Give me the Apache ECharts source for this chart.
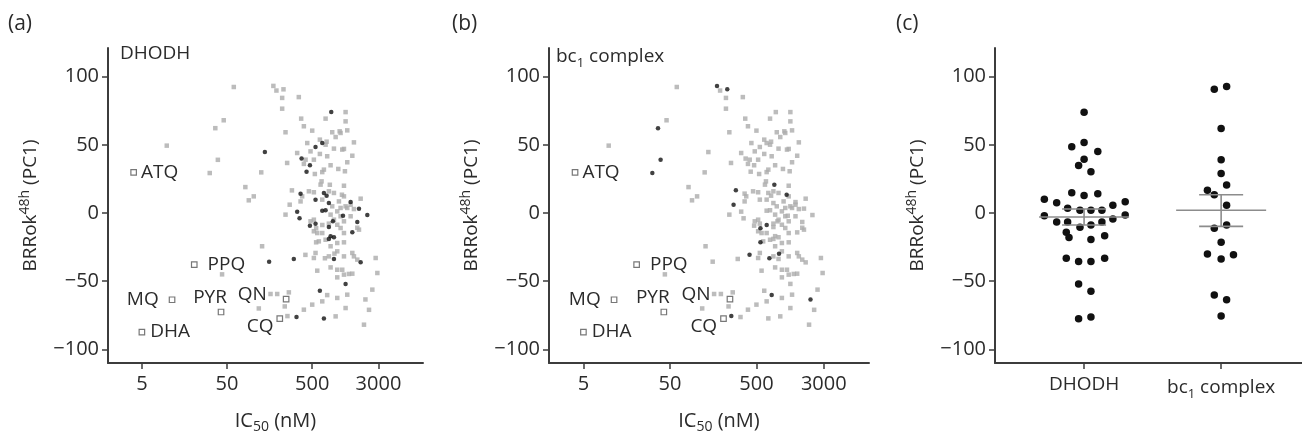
<!DOCTYPE html>
<html>
<head>
<meta charset="utf-8">
<script src="https://cdn.jsdelivr.net/npm/echarts@6/dist/echarts.min.js"></script>
<style>
  html, body { margin: 0; padding: 0; background: #fff; }
  #chart { width: 1302px; height: 438px; }
</style>
</head>
<body>
<div id="chart"></div>
<script>
// tick labels
const icTicks = [5, 50, 500, 3000];
const pcTicks = [-100, -50, 0, 50, 100];

// compounds as [IC50 (nM), BRRok48h PC1]
const otherCompounds = [
    [9.8, 49.4], [45.7, 68], [60, 92.4], [82, 19], [90, 9.3], [103, 12.2], [126, 29.8], [43.7, -45],
    [129, -24.4], [118, -70], [162, -59.4], [194, -59.4], [266, -58.2], [238, -68.5],
    [190, 89.8], [222, 84.4], [222, 76.5], [348, 85], [243, 59.2], [371, 69.2], [399, 63.6], [500, 60.4],
    [718, 69.2], [1233, 74], [1233, 67.2], [1290, 60.6], [1077, 58.7], [1545, 51.8], [1479, 42], [1180, 47],
    [900, 47.2], [718, 50.1], [437, 51.3], [478, 45.2], [333, 44], [254, 36.7], [615, 43.3], [1290, 37.2],
    [1012, 32.3], [1211, 30.6], [537, 28.6], [656, 30], [822, 35], [399, 36], [644, 23.2], [1180, 20],
    [900, 14.7], [1853, 10.5], [365, 8.5], [523, 15.2], [656, 9.8], [1030, 8.5], [1413, 6.1], [1077, 3.7],
    [984, 1.2], [1290, 3.7], [1545, 2.9], [859, 4.9], [243, -1.2], [523, -4.9], [785, -7.8], [900, -4.9],
    [1180, -6.1], [1413, -2.4], [1692, -10.8], [573, -14.7], [984, -22], [1180, -21.5], [822, -24.4],
    [523, -33], [1180, -31.8], [1545, -31.8], [1692, -34.2], [2780, -33], [2910, -44], [822, -39.9],
    [984, -41.6], [1180, -45.2], [1350, -44.7], [984, -47.2], [573, -42.3], [2541, -56.2], [2323, -71],
    [2028, -81.9], [1290, -59.9], [1233, -69.7], [656, -64.8], [500, -67.2], [399, -70.9], [942, -75.8],
    [1077, -2.4], [1233, 4.9], [822, -1.2], [984, -8.6], [1077, -11], [1180, -14.7], [656, -14.7],
    [478, -6.1], [523, -13.4], [598, -20.8], [718, -19.6], [547, -29.3], [785, -31.8], [984, -28.1],
    [1479, -29.3], [1127, -41.6], [1479, -44.5], [984, -62.3], [1771, -12.2], [942, 55.7], [615, 53.8],
    [738, 52.3], [1127, 46.5], [418, 39.1], [523, 39.1], [750, 41.6], [686, 31.8], [627, 20.8],
    [1180, 12.2], [381, 12.2], [457, 15.9], [785, 15.9], [859, 59.2], [1050, 59.9]
];
const dhodhCompounds = [
    [837, 74], [139, 44.7], [547, 48.4], [656, 51.3], [375, 39.9], [470, 35], [429, 30.3], [365, 14.2],
    [547, 9.8], [686, 14.7], [738, 12.7], [785, 7.3], [656, 1.7], [718, 2], [1413, 8], [1771, 3.2],
    [2218, -1.5], [333, 1], [355, -3.9], [470, -9.3], [547, -7.8], [785, -10.3], [875, -6.1], [1692, -6.6],
    [1479, -14.2], [785, -19], [822, -17], [900, -17.8], [156, -35.7], [304, -33.7], [900, -33.7],
    [1853, -36.2], [1233, -52], [615, -57], [686, -77.3], [327, -76.3], [1150, -2]
];
const bc1Compounds = [
    [175, 93.2], [230, 90.7], [36.4, 62.2], [39, 39], [31.3, 29.3], [289, 16.6], [272, 6.1], [805, 20.7],
    [1117, 13.4], [556, -11.2], [657, -8.8], [556, -21.5], [416, -30.7], [705, -33.2], [912, -29.8],
    [750, -60.2], [2108, -63.4], [256, -75.6]
];

// reference antimalarials
const refDrugs = ['ATQ', 'PPQ', 'MQ', 'DHA', 'PYR', 'QN', 'CQ'];
const refIC50 = [4.0, 20.6, 11.3, 5, 42.5, 247, 208];
const refPC1 = [29.8, -37.9, -63.6, -87.3, -72.6, -63.1, -77.5];

// panel (c): swarm position (1 = DHODH, 2 = bc1 complex), PC1
const swarmGroups = ['DHODH', 'bc{sub|1} complex'];
const dhodhSwarm = [
    [1.00, 73.9], [0.91, 48.5], [1.00, 51.7], [1.10, 45.1], [1.00, 39.5], [0.96, 34.9], [1.05, 30.2],
    [0.91, 14.9], [1.00, 12.9], [1.10, 14.1],
    [0.71, 10], [0.80, 7.6], [0.88, 3.4], [0.97, 2], [1.05, 2], [1.13, 2], [1.21, 5.6], [1.30, 8.3],
    [0.71, -2], [0.80, -6.6], [0.88, -6.6], [0.97, -10.5], [1.05, -8.8], [1.13, -6.6], [1.21, -4.4], [1.30, -1.5],
    [0.87, -14.1], [0.89, -18], [1.05, -19.5], [1.15, -16.6],
    [0.87, -33.2], [0.96, -35.6], [1.05, -35.6], [1.15, -33.2],
    [0.96, -52], [1.05, -57.3], [0.96, -77.6], [1.05, -76.3]
];
const bc1Swarm = [
    [1.95, 90.7], [2.04, 92.7], [2.00, 62], [2.00, 39], [2.00, 29], [2.04, 20.5], [1.90, 16.6], [1.95, 13.4],
    [2.04, 5.6], [1.95, -11.2], [2.04, -8.8], [2.00, -21.5], [1.90, -30], [2.00, -33.7], [2.09, -30.7],
    [1.95, -60.2], [2.04, -63.7], [2.00, -75.6]
];
// mean and error bar per group: [group, mean, low, high]
const groupStats = [[1, -2.9, -8.8, 2.9], [2, 2, -9.8, 13.4]];

const FONT = '"Open Sans", "Noto Sans", sans-serif';
const TEXT = '#2b2b2b';
const AXIS = '#3c3c3c';
const GREY = '#ababab';
const BLACK = '#111';

const refLabel = {
    ATQ: {position: 'right', distance: 4},
    PPQ: {position: 'right', distance: 10},
    MQ: {position: 'left', distance: 10},
    DHA: {position: 'right', distance: 5},
    PYR: {position: 'top', distance: 2, offset: [-11, 0]},
    QN: {position: 'left', distance: 16, offset: [0, -4]},
    CQ: {position: 'left', distance: 3, offset: [0, 8]},
};

const grids = [
    {left: 108, top: 48, width: 315, height: 315, outerBoundsMode: 'none'},
    {left: 549, top: 48, width: 320, height: 315, outerBoundsMode: 'none'},
    {left: 995, top: 48, width: 307, height: 315, outerBoundsMode: 'none'},
];

const pcName = 'BRRok{sup|48h} (PC1)';
const minus = v => String(v).replace('-', '\u2212');

function yAxisFor(gridIndex) {
    return {
        type: 'value', gridIndex, min: -110, max: 121,
        name: pcName, nameLocation: 'middle', nameGap: 64,
        nameTextStyle: {
            fontFamily: FONT, fontSize: 19, color: TEXT, lineHeight: 26,
            rich: {sup: {fontFamily: FONT, fontSize: 14, color: TEXT, verticalAlign: 'top', lineHeight: 26}},
        },
        axisLine: {show: true, onZero: false, lineStyle: {color: AXIS, width: 2}},
        axisTick: {show: true, length: 6, customValues: pcTicks, lineStyle: {color: AXIS, width: 1.5}},
        axisLabel: {customValues: pcTicks, formatter: minus, fontFamily: FONT, fontSize: 20, color: TEXT, margin: 9},
        splitLine: {show: false},
    };
}

function icAxisFor(gridIndex, max) {
    return {
        type: 'log', gridIndex, min: 2, max, logBase: 10,
        name: 'IC{sub|50} (nM)', nameLocation: 'middle', nameGap: 45,
        nameTextStyle: {
            fontFamily: FONT, fontSize: 20, color: TEXT, lineHeight: 26, padding: [0, 0, 0, 20],
            rich: {sub: {fontFamily: FONT, fontSize: 14, color: TEXT, verticalAlign: 'bottom', lineHeight: 26}},
        },
        axisLine: {show: true, onZero: false, lineStyle: {color: AXIS, width: 2}},
        axisTick: {show: true, length: 6, customValues: icTicks, lineStyle: {color: AXIS, width: 1.5}},
        axisLabel: {customValues: icTicks, formatter: v => String(Math.round(v)), fontFamily: FONT, fontSize: 20, color: TEXT, margin: 11},
        splitLine: {show: false},
        minorTick: {show: false},
    };
}

function scatterSeries(axisIndex, greyData, blackData) {
    return [
        {
            type: 'scatter', xAxisIndex: axisIndex, yAxisIndex: axisIndex,
            data: greyData, symbol: 'rect', symbolSize: 4.5,
            itemStyle: {color: GREY}, silent: true, z: 2,
        },
        {
            type: 'scatter', xAxisIndex: axisIndex, yAxisIndex: axisIndex,
            data: blackData, symbol: 'circle', symbolSize: 4.5,
            itemStyle: {color: BLACK}, silent: true, z: 3,
        },
        {
            type: 'scatter', xAxisIndex: axisIndex, yAxisIndex: axisIndex,
            symbol: 'rect', symbolSize: 5.5, silent: true, z: 4,
            itemStyle: {color: '#fff', borderColor: '#555', borderWidth: 1.2},
            label: {
                show: true, formatter: '{b}', fontFamily: FONT, fontSize: 19,
                color: TEXT, textBorderWidth: 0, opacity: 1,
            },
            data: refDrugs.map((name, i) => ({
                name, value: [refIC50[i], refPC1[i]],
                label: Object.assign({color: TEXT}, refLabel[name]),
            })),
        },
    ];
}

const chart = echarts.init(document.getElementById('chart'), null, {renderer: 'canvas'});

const titleStyle = {fontFamily: FONT, fontSize: 21, fontWeight: 'normal', color: TEXT};
const innerStyle = {
    fontFamily: FONT, fontSize: 19, fontWeight: 'normal', color: TEXT,
    rich: {sub: {fontFamily: FONT, fontSize: 13, color: TEXT, verticalAlign: 'bottom', lineHeight: 26}},
};

chart.setOption({
    animation: false,
    backgroundColor: '#fff',
    title: [
        {text: '(a)', left: 8, top: 14, textStyle: titleStyle, padding: 0},
        {text: '(b)', left: 452, top: 14, textStyle: titleStyle, padding: 0},
        {text: '(c)', left: 896, top: 14, textStyle: titleStyle, padding: 0},
        {text: 'DHODH', left: 120, top: 44, textStyle: innerStyle, padding: 0},
        {text: 'bc{sub|1} complex', left: 556, top: 44, textStyle: innerStyle, padding: 0},
    ],
    grid: grids,
    xAxis: [
        icAxisFor(0, 10000),
        icAxisFor(1, 10000),
        {
            type: 'value', gridIndex: 2, min: 0.35, max: 2.59,
            axisLine: {show: true, onZero: false, lineStyle: {color: AXIS, width: 2}},
            axisTick: {show: true, length: 6, customValues: [1, 2], lineStyle: {color: AXIS, width: 1.5}},
            axisLabel: {
                customValues: [1, 2], formatter: v => swarmGroups[Math.round(v) - 1],
                fontFamily: FONT, fontSize: 19, color: TEXT, margin: 12,
                rich: {sub: {fontFamily: FONT, fontSize: 13, color: TEXT, verticalAlign: 'bottom', lineHeight: 26}},
            },
            splitLine: {show: false},
        },
    ],
    yAxis: [yAxisFor(0), yAxisFor(1), yAxisFor(2)],
    series: [
        ...scatterSeries(0, otherCompounds.concat(bc1Compounds), dhodhCompounds),
        ...scatterSeries(1, otherCompounds.concat(dhodhCompounds), bc1Compounds),
        {
            type: 'scatter', xAxisIndex: 2, yAxisIndex: 2,
            data: dhodhSwarm.concat(bc1Swarm), symbol: 'circle', symbolSize: 7.5,
            itemStyle: {color: BLACK, opacity: 1}, silent: true, z: 2,
        },
        {
            type: 'custom', xAxisIndex: 2, yAxisIndex: 2, silent: true, z: 5,
            data: groupStats,
            renderItem: (params, api) => {
                const c = api.coord([api.value(0), api.value(1)]);
                const lo = api.coord([api.value(0), api.value(2)]);
                const hi = api.coord([api.value(0), api.value(3)]);
                const style = {stroke: '#8c8c8c', lineWidth: 1.6};
                const seg = (x1, y1, x2, y2) => ({type: 'line', shape: {x1, y1, x2, y2}, style});
                return {
                    type: 'group',
                    children: [
                        seg(c[0] - 45, c[1], c[0] + 45, c[1]),
                        seg(lo[0], lo[1], hi[0], hi[1]),
                        seg(lo[0] - 22, lo[1], lo[0] + 22, lo[1]),
                        seg(hi[0] - 22, hi[1], hi[0] + 22, hi[1]),
                    ],
                };
            },
        },
    ],
});
</script>
</body>
</html>
